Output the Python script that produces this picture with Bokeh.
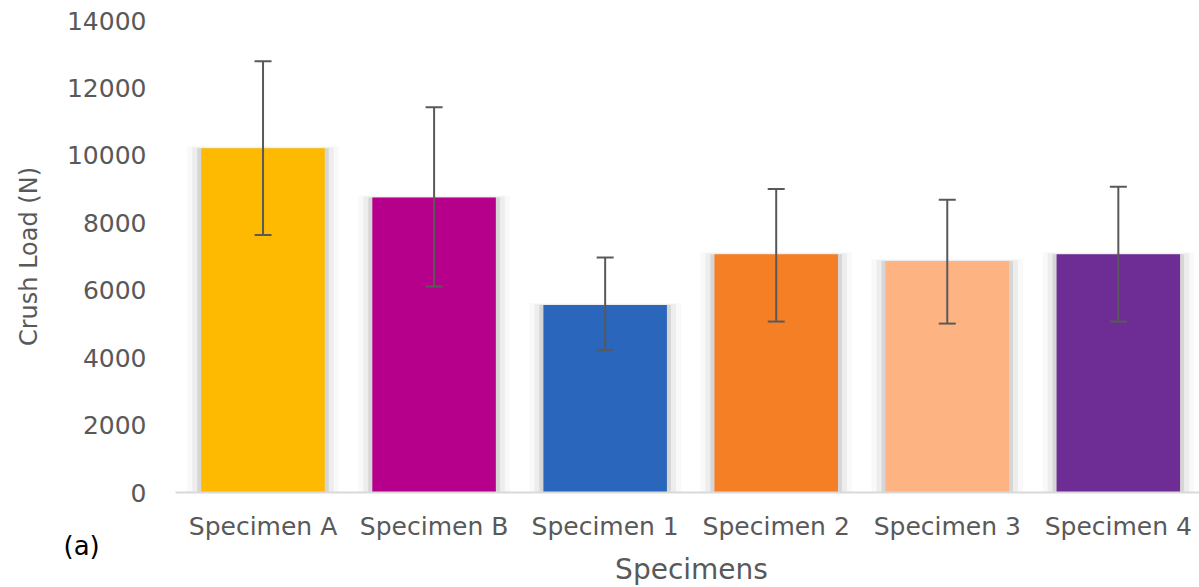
from bokeh.plotting import figure
from bokeh.models import Range1d, FixedTicker, ColumnDataSource, Label
from bokeh.embed import file_html
from bokeh.resources import INLINE

categories = ["Specimen A", "Specimen B", "Specimen 1", "Specimen 2", "Specimen 3", "Specimen 4"]
crush_load = [10210, 8750, 5560, 7070, 6870, 7070]
err_upper = [12790, 11430, 6970, 9000, 8680, 9070]
err_lower = [7640, 6110, 4220, 5070, 5010, 5070]
colors = ["#FDBA00", "#B6008C", "#2966BC", "#F47F24", "#FDB382", "#6E2C95"]
y_ticks = [0, 2000, 4000, 6000, 8000, 10000, 12000, 14000]

FONT = "DejaVu Sans"
GRAY = "#595959"

# layout geometry (pixels)
W, H = 1199, 587
X0_PX, Y0_PX, YTOP_PX = 177, 492, 20      # frame-left, zero line, 14000 line
PX_X = 171.06                              # px per category
PX_Y = (Y0_PX - YTOP_PX) / 14000.0         # px per Newton
BAR_W = 0.722

x_start = -0.5 - X0_PX / PX_X
x_end = -0.5 + (W - X0_PX) / PX_X
y_end = 14000 + YTOP_PX / PX_Y
y_start = -(H - Y0_PX) / PX_Y

xs = list(range(len(categories)))
src = ColumnDataSource(dict(x=xs, top=crush_load, up=err_upper, lo=err_lower, color=colors))

p = figure(width=W, height=H, output_backend="svg", toolbar_location=None,
           x_range=Range1d(x_start, x_end), y_range=Range1d(y_start, y_end),
           min_border_left=0, min_border_right=0, min_border_top=0, min_border_bottom=0)
p.outline_line_color = None
p.grid.grid_line_color = None
p.background_fill_color = "white"
p.border_fill_color = "white"

# soft shadows behind the bars
for grow_px, up_px, alpha in [(14, 2, 0.04), (9, 1, 0.08), (4, 0, 0.16)]:
    p.vbar(x=xs, bottom=0, top=[v + up_px / PX_Y for v in crush_load],
           width=BAR_W + 2 * grow_px / PX_X, fill_color="#606060", fill_alpha=alpha, line_color=None)
p.vbar(x="x", top="top", bottom=0, width=BAR_W, source=src, fill_color="color", line_color=None)

# error bars
p.segment(x0="x", y0="lo", x1="x", y1="up", source=src, line_color=GRAY, line_width=2)
p.scatter(x="x", y="up", source=src, marker="dash", size=17, line_color=GRAY, line_width=2)
p.scatter(x="x", y="lo", source=src, marker="dash", size=17, line_color=GRAY, line_width=2)

# x axis, fixed at y = 0
xa = p.xaxis[0]
xa.fixed_location = 0
xa.bounds = (-0.5 - 2 / PX_X, x_end)
xa.ticker = FixedTicker(ticks=xs)
xa.major_label_overrides = {i: c for i, c in enumerate(categories)}
xa.major_tick_line_color = None
xa.minor_tick_line_color = None
xa.major_tick_out = 0
xa.major_tick_in = 0
xa.axis_line_color = "#D9D9D9"
xa.axis_line_width = 2
xa.major_label_text_font = FONT
xa.major_label_text_font_size = "25px"
xa.major_label_text_color = GRAY
xa.major_label_standoff = 19

# y axis, fixed at the left edge of the first category slot
ya = p.yaxis[0]
ya.fixed_location = -0.5
ya.bounds = (0, 14000)
ya.ticker = FixedTicker(ticks=y_ticks)
ya.axis_line_color = None
ya.major_tick_line_color = None
ya.minor_tick_line_color = None
ya.major_tick_out = 0
ya.major_tick_in = 0
ya.major_label_text_font = FONT
ya.major_label_text_font_size = "25px"
ya.major_label_text_color = GRAY
ya.major_label_standoff = 31
ya.axis_label = "Crush Load (N)"
ya.axis_label_text_font = FONT
ya.axis_label_text_font_size = "24px"
ya.axis_label_text_font_style = "normal"
ya.axis_label_text_color = GRAY
ya.axis_label_standoff = 21

# x-axis title (centred under the plot area, as in the reference)
p.add_layout(Label(x=-0.5 + (691 - X0_PX) / PX_X, y=-(569 - Y0_PX) / PX_Y, text="Specimens",
                   text_font=FONT, text_font_size="28px", text_color=GRAY,
                   text_baseline="middle", text_align="center"))

p.add_layout(Label(x=-0.5 - (X0_PX - 63) / PX_X, y=-(545 - Y0_PX) / PX_Y, text="(a)",
                   text_font=FONT, text_font_size="26px", text_color="black",
                   text_baseline="middle", text_align="left"))

open("out.html", "w").write(file_html(p, INLINE))
